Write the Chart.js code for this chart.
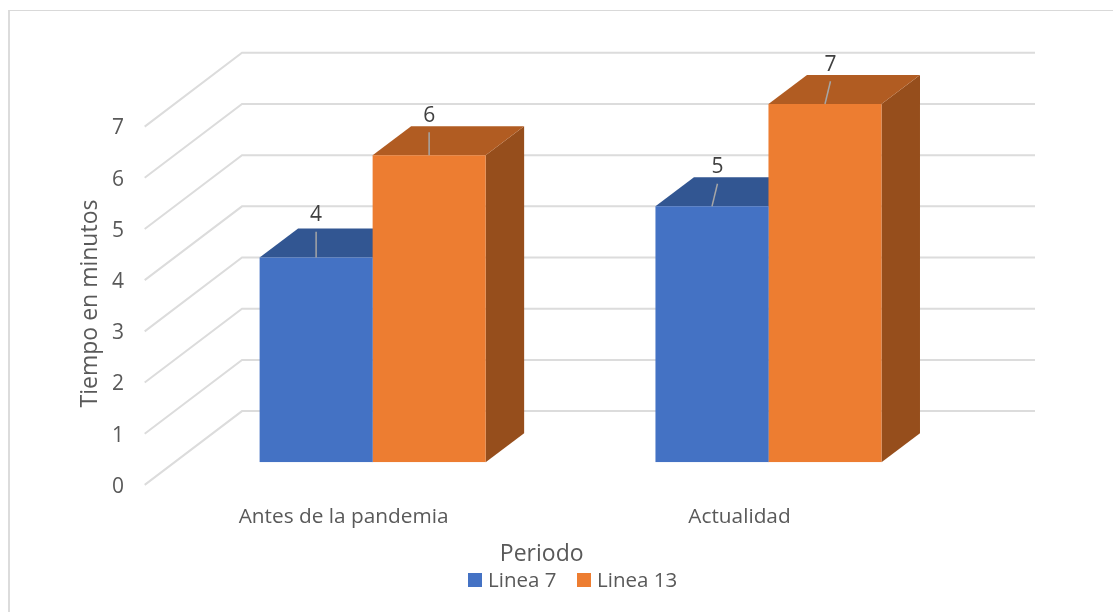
<!DOCTYPE html>
<html>
<head>
<meta charset="utf-8">
<script src="https://cdn.jsdelivr.net/npm/chart.js@4"></script>
<style>
  html, body { margin: 0; height: 100%; background: #fff; overflow: hidden; }
  #frame { position: absolute; left: 8px; top: 10px; right: 0; bottom: 0; border-left: 2px solid #dcdcdc; border-top: 1.5px solid #d9d9d9; }
  canvas { position: absolute; left: 0; top: 0; }
</style>
</head>
<body>
<div id="frame"></div>
<canvas id="chart" width="1113" height="612"></canvas>
<script>
// Tiempo de espera por linea, barras con efecto 3D
const periodos = ['Antes de la pandemia', 'Actualidad'];
const linea7 = [4, 5];
const linea13 = [6, 7];
const yMax = 7;

const FONT = '"Open Sans", sans-serif';
const textColor = '#595959';
const gridColor = '#dcdcdc';
const blue = '#4472c4', blueTop = '#325692';
const orange = '#ed7d31', orangeTop = '#b15c22', orangeSide = '#964e1c';

// profundidad de las barras y de las paredes del grafico
const barDepth = { x: 38.5, y: -29 };
const backWall = { left: 242, right: 1035, dy: -51.2 };
const frontEdge = { x: 144.7, dy: 22.6 };

// cuanto sube y se inclina la guia de cada etiqueta [serie][periodo]
const labelLift = [[42.5, 39], [39, 39]];
const leaderLift = [[25.7, 22.6], [23, 22.7]];
const leaderLean = [0, 5.5];

function face(ctx, color, pts){
  ctx.fillStyle = color;
  ctx.beginPath();
  pts.forEach((p, i) => i ? ctx.lineTo(p[0], p[1]) : ctx.moveTo(p[0], p[1]));
  ctx.closePath();
  ctx.fill();
}

const walls = {
  id: 'walls',
  beforeDatasetsDraw(chart){
    const { ctx, scales: { y } } = chart;
    ctx.save();
    ctx.strokeStyle = gridColor;
    ctx.lineWidth = 2;
    y.ticks.forEach(t => {
      const py = y.getPixelForValue(t.value);
      ctx.beginPath();
      ctx.moveTo(frontEdge.x, py + frontEdge.dy);
      ctx.lineTo(backWall.left, py + backWall.dy);
      ctx.lineTo(backWall.right, py + backWall.dy);
      ctx.stroke();
    });
    ctx.restore();
  }
};

// caras superior y lateral, detras de las barras que dibuja Chart.js
const barFaces = {
  id: 'barFaces',
  beforeDatasetsDraw(chart){
    const { ctx } = chart;
    const dx = barDepth.x, dy = barDepth.y;
    chart.data.datasets.forEach((ds, d) => {
      chart.getDatasetMeta(d).data.forEach(bar => {
        const l = bar.x - bar.width / 2, r = bar.x + bar.width / 2;
        face(ctx, ds.sideColor, [[r, bar.y], [r + dx, bar.y + dy], [r + dx, bar.base + dy], [r, bar.base]]);
        face(ctx, ds.topColor, [[l, bar.y], [l + dx, bar.y + dy], [r + dx, bar.y + dy], [r, bar.y]]);
      });
    });
  }
};

const annotations = {
  id: 'annotations',
  afterDatasetsDraw(chart){
    const { ctx } = chart;
    ctx.save();
    ctx.textBaseline = 'middle';
    ctx.textAlign = 'center';

    // etiquetas de valor con su guia
    chart.data.datasets.forEach((ds, d) => {
      chart.getDatasetMeta(d).data.forEach((bar, i) => {
        ctx.strokeStyle = '#a6a6a6';
        ctx.lineWidth = 1.5;
        ctx.beginPath();
        ctx.moveTo(bar.x, bar.y);
        ctx.lineTo(bar.x + leaderLean[i], bar.y - leaderLift[d][i]);
        ctx.stroke();
        ctx.fillStyle = '#404040';
        ctx.font = '21px ' + FONT;
        ctx.fillText(String(ds.data[i]), bar.x + leaderLean[i], bar.y - labelLift[d][i]);
      });
    });

    // titulos de los ejes
    ctx.fillStyle = textColor;
    ctx.font = '23px ' + FONT;
    ctx.fillText('Periodo', 541.7, 554);
    ctx.save();
    ctx.translate(90, 303.5);
    ctx.rotate(-Math.PI / 2);
    ctx.fillText('Tiempo en minutos', 0, 0);
    ctx.restore();

    // leyenda
    ctx.font = '20.5px ' + FONT;
    ctx.textAlign = 'left';
    let x = 468;
    chart.data.datasets.forEach(ds => {
      ctx.fillStyle = ds.backgroundColor;
      ctx.fillRect(x, 573, 14, 14);
      ctx.fillStyle = textColor;
      ctx.fillText(ds.label, x + 20, 581);
      x += 109;
    });
    ctx.restore();
  }
};

new Chart(document.getElementById('chart'), {
  type: 'bar',
  data: {
    labels: periodos,
    datasets: [
      { label: 'Linea 7', data: linea7, backgroundColor: blue, topColor: blueTop, sideColor: blue },
      { label: 'Linea 13', data: linea13, backgroundColor: orange, topColor: orangeTop, sideColor: orangeSide }
    ]
  },
  options: {
    responsive: false,
    animation: false,
    layout: { padding: { left: 74.7, right: 146.6, top: 104, bottom: 0 } },
    datasets: { bar: { categoryPercentage: 0.571, barPercentage: 1 } },
    plugins: { legend: { display: false }, tooltip: { enabled: false } },
    scales: {
      x: {
        grid: { display: false },
        border: { display: false },
        afterFit(scale){ scale.height = 149.7; },
        ticks: { color: textColor, font: { family: FONT, size: 20.8 }, padding: 34, labelOffset: -29, maxRotation: 0, autoSkip: false }
      },
      y: {
        min: 0,
        max: yMax,
        grid: { display: false, drawTicks: false },
        border: { display: false },
        afterFit(scale){ scale.width = 100; },
        ticks: { stepSize: 1, color: textColor, font: { family: FONT, size: 21 }, padding: 50.7, labelOffset: 24.5 }
      }
    }
  },
  plugins: [walls, barFaces, annotations]
});
</script>
</body>
</html>
